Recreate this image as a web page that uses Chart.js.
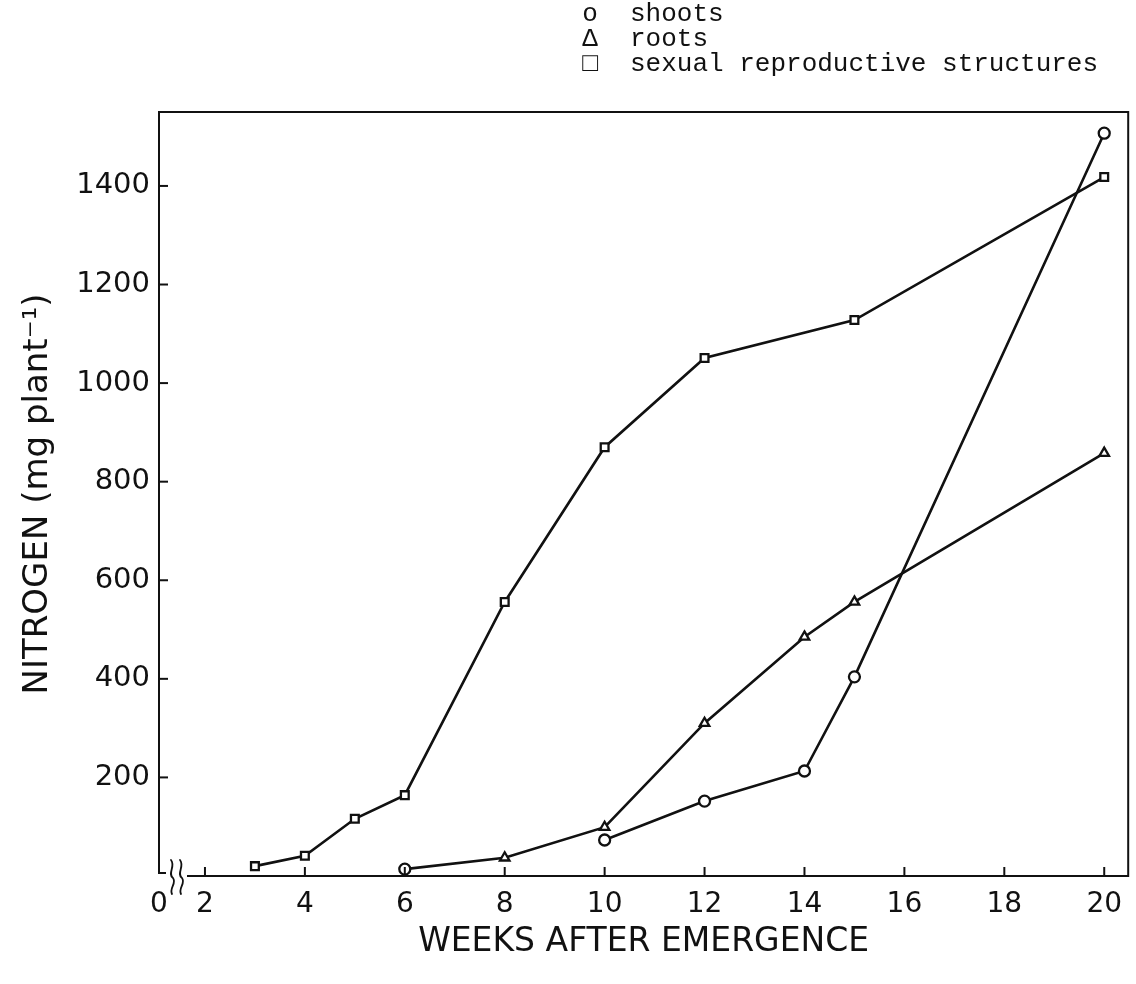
<!DOCTYPE html>
<html>
<head>
<meta charset="utf-8">
<script src="https://cdn.jsdelivr.net/npm/chart.js@4/dist/chart.umd.min.js"></script>
<style>
  html, body { margin: 0; padding: 0; background: #fff; }
  #wrap { width: 1136px; height: 984px; }
</style>
</head>
<body>
<div id="wrap"><canvas id="c" width="1136" height="984"></canvas></div>
<script>
// values
var reproWeeks = [3, 4, 5, 6, 8, 10, 12, 15, 20];
var repro = [20, 41, 116, 164, 556, 870, 1051, 1128, 1418];
var rootWeeks = [6, 8, 10, 12, 14, 15, 20];
var roots = [14, 37, 99, 310, 485, 556, 858];
var shootWeeks = [10, 12, 14, 15, 20];
var shoots = [73, 152, 213, 404, 1507];
var xTicks = [2, 4, 6, 8, 10, 12, 14, 16, 18, 20];
var yTicks = [200, 400, 600, 800, 1000, 1200, 1400];
var legendLabels = ['shoots', 'roots', 'sexual reproductive structures'];
var legendSymbols = ['o', '\u0394', '\u25A1'];

var X_MIN = 1.08, X_MAX = 20.48;

function pts(xs, ys) {
    var out = [];
    for (var i = 0; i < xs.length; i++) out.push({x: xs[i], y: ys[i]});
    return out;
}

function series(label, xs, ys, style) {
    return {
        label: label,
        data: pts(xs, ys),
        borderColor: '#111',
        borderWidth: 2.6,
        pointStyle: style,
        pointRadius: 5.5,
        pointBorderWidth: 2.3,
        pointBorderColor: '#111',
        pointBackgroundColor: '#fff',
        tension: 0,
        fill: false
    };
}

var rootStyles = rootWeeks.map(function (w, i) { return i == 0 ? 'circle' : 'triangle'; });

// frame, inward ticks, axis break and the typed legend
var decor = {
    id: 'decor',
    afterDraw: function (chart) {
        var ctx = chart.ctx;
        var a = chart.chartArea;
        var xs = chart.scales.x, ys = chart.scales.y;
        ctx.save();
        ctx.strokeStyle = '#111';
        ctx.lineWidth = 2;
        ctx.lineCap = 'square';
        ctx.beginPath();
        ctx.moveTo(a.left, a.bottom - 3);
        ctx.lineTo(a.left, a.top);
        ctx.lineTo(a.right, a.top);
        ctx.lineTo(a.right, a.bottom);
        ctx.lineTo(a.left + 29, a.bottom);
        ctx.stroke();
        // stub + break squiggles
        ctx.beginPath();
        ctx.moveTo(a.left, a.bottom - 3);
        ctx.lineTo(a.left + 6, a.bottom - 3);
        ctx.stroke();
        ctx.lineWidth = 1.8;
        ctx.lineCap = 'round';
        [a.left + 14, a.left + 23].forEach(function (bx) {
            ctx.beginPath();
            ctx.moveTo(bx - 2, a.bottom - 16);
            ctx.bezierCurveTo(bx + 3, a.bottom - 10, bx - 6, a.bottom - 2, bx, a.bottom + 2);
            ctx.bezierCurveTo(bx + 4, a.bottom + 7, bx - 4, a.bottom + 12, bx - 1, a.bottom + 18);
            ctx.stroke();
        });
        ctx.lineWidth = 2;
        ctx.lineCap = 'butt';
        xTicks.forEach(function (v) {
            var px = xs.getPixelForValue(v);
            ctx.beginPath();
            ctx.moveTo(px, a.bottom);
            ctx.lineTo(px, a.bottom - 9);
            ctx.stroke();
        });
        yTicks.forEach(function (v) {
            var py = ys.getPixelForValue(v);
            ctx.beginPath();
            ctx.moveTo(a.left, py);
            ctx.lineTo(a.left + 9, py);
            ctx.stroke();
        });
        // legend
        ctx.fillStyle = '#111';
        ctx.font = '26px "Liberation Mono", monospace';
        ctx.textBaseline = 'middle';
        for (var i = 0; i < legendLabels.length; i++) {
            var y = 14 + i * 25;
            ctx.textAlign = 'center';
            ctx.fillText(legendSymbols[i], 590, y);
            ctx.textAlign = 'left';
            ctx.fillText(legendLabels[i], 630, y);
        }
        ctx.restore();
    }
};

new Chart(document.getElementById('c'), {
    type: 'line',
    data: {
        datasets: [
            series(legendLabels[0], shootWeeks, shoots, 'circle'),
            series(legendLabels[1], rootWeeks, roots, rootStyles),
            series(legendLabels[2], reproWeeks, repro, 'rect')
        ]
    },
    options: {
        responsive: false,
        animation: false,
        layout: { padding: { top: 112, right: 7, left: 0, bottom: 0 } },
        plugins: {
            legend: { display: false },
            tooltip: { enabled: false }
        },
        scales: {
            x: {
                type: 'linear',
                min: X_MIN,
                max: X_MAX,
                afterFit: function (s) { s.height = 108; },
                afterBuildTicks: function (s) {
                    s.ticks = [X_MIN].concat(xTicks).map(function (v) { return {value: v}; });
                },
                grid: { display: false, drawTicks: false },
                border: { display: false },
                ticks: {
                    padding: 12,
                    color: '#111',
                    font: { family: '"DejaVu Sans", sans-serif', size: 28 },
                    maxRotation: 0,
                    autoSkip: false,
                    callback: function (v) { return v == X_MIN ? '0' : String(v); }
                },
                title: {
                    display: true,
                    text: 'WEEKS AFTER EMERGENCE',
                    color: '#111',
                    font: { family: '"DejaVu Sans", sans-serif', size: 33 },
                    padding: { top: 0, bottom: 22 }
                }
            },
            y: {
                min: 0,
                max: 1550,
                afterFit: function (s) { s.width = 159; },
                afterBuildTicks: function (s) {
                    s.ticks = yTicks.map(function (v) { return {value: v}; });
                },
                grid: { display: false, drawTicks: false },
                border: { display: false },
                ticks: {
                    padding: 9,
                    color: '#111',
                    font: { family: '"DejaVu Sans", sans-serif', size: 29 },
                    callback: function (v) { return String(v); }
                },
                title: {
                    display: true,
                    text: 'NITROGEN (mg plant\u207B\u00B9)',
                    color: '#111',
                    font: { family: '"DejaVu Sans", sans-serif', size: 34 },
                    padding: { top: 18, bottom: 0 }
                }
            }
        }
    },
    plugins: [decor]
});
</script>
</body>
</html>
